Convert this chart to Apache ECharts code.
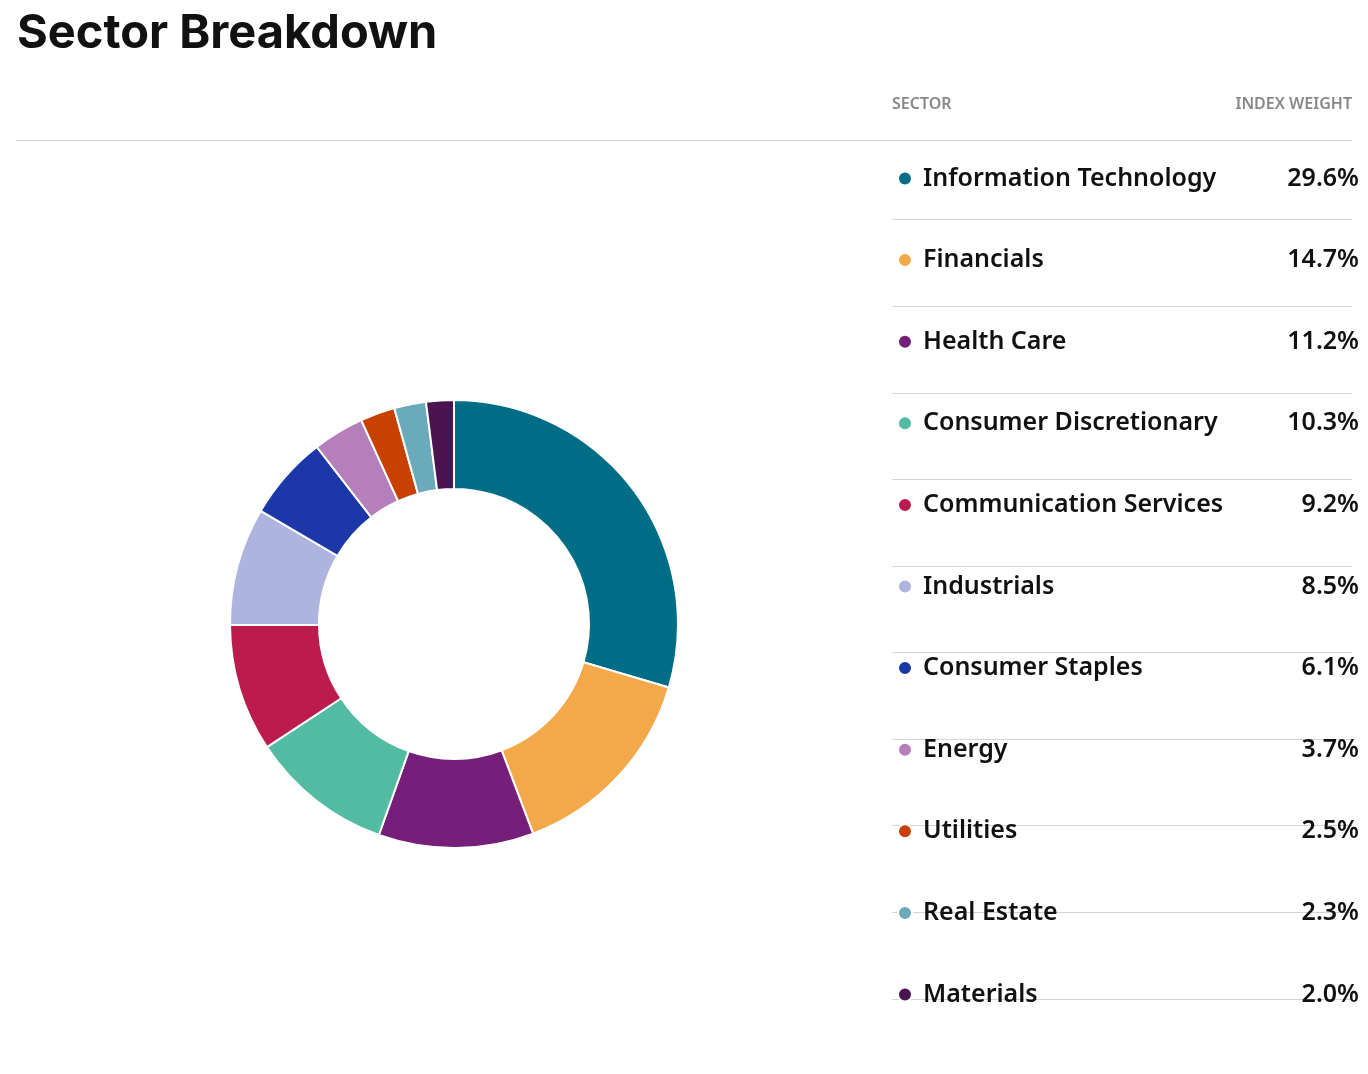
<!DOCTYPE html>
<html><head><meta charset="utf-8">
<script src="https://cdn.jsdelivr.net/npm/echarts@6/dist/echarts.min.js"></script>
<style>html,body{margin:0;padding:0;background:#fff}#c{width:1368px;height:1074px}</style>
</head><body><div id="c"></div>
<script>
const sectors = ["Information Technology","Financials","Health Care","Consumer Discretionary","Communication Services","Industrials","Consumer Staples","Energy","Utilities","Real Estate","Materials"];
const weights = [29.6,14.7,11.2,10.3,9.2,8.5,6.1,3.7,2.5,2.3,2.0];
const colors = ["#006d87","#f3a84a","#751f7a","#52bba1","#bb1c4d","#adb4de","#1c37a8","#b47fba","#c94100","#6aaabb","#4a1450"];

const rowH = 86.6, firstY = 176;
const graphics = [
  {type:'text',left:17,top:10,style:{text:'Sector Breakdown',font:'bold 47px Inter, "Noto Sans", sans-serif',fill:'#111'}},
  {type:'text',left:892,top:96,style:{text:'SECTOR',font:'600 16px "Noto Sans", sans-serif',fill:'#888'}},
  {type:'text',right:16,top:96,style:{text:'INDEX WEIGHT',font:'600 16px "Noto Sans", sans-serif',fill:'#888',align:'right'}},
  {type:'line',shape:{x1:16,y1:140.5,x2:1352,y2:140.5},style:{stroke:'#d4d4d4',lineWidth:1}}
];
for (let i=0;i<sectors.length-1;i++){
  const y = Math.round(firstY + rowH*i + rowH/2)+0.5;
  graphics.push({type:'line',shape:{x1:892,y1:y,x2:1352,y2:y},style:{stroke:'#d4d4d4',lineWidth:1}});
}
const chart = echarts.init(document.getElementById('c'));
chart.setOption({
  animation:false,
  color:colors,
  graphic:graphics,
  legend:{
    orient:'vertical',left:892,top:firstY-15,
    icon:'circle',itemWidth:14,itemHeight:14,itemGap:rowH-30,
    selectedMode:false,
    formatter:function(name){const i=sectors.indexOf(name);return '{n|'+name+'}{v|'+weights[i].toFixed(1)+'%}';},
    textStyle:{rich:{
      n:{width:341,lineHeight:30,padding:[0,0,0,6],fontFamily:'"Noto Sans", sans-serif',fontWeight:600,fontSize:25,color:'#111'},
      v:{width:95,align:'right',lineHeight:30,fontFamily:'"Noto Sans", sans-serif',fontWeight:600,fontSize:25,color:'#111'}
    }}
  },
  series:[{
    type:'pie',center:[454,624],radius:[135,224],startAngle:90,clockwise:true,
    label:{show:false},labelLine:{show:false},silent:true,
    itemStyle:{borderColor:'#fff',borderWidth:2},
    data:sectors.map((s,i)=>({name:s,value:weights[i]}))
  }]
});
</script></body></html>
